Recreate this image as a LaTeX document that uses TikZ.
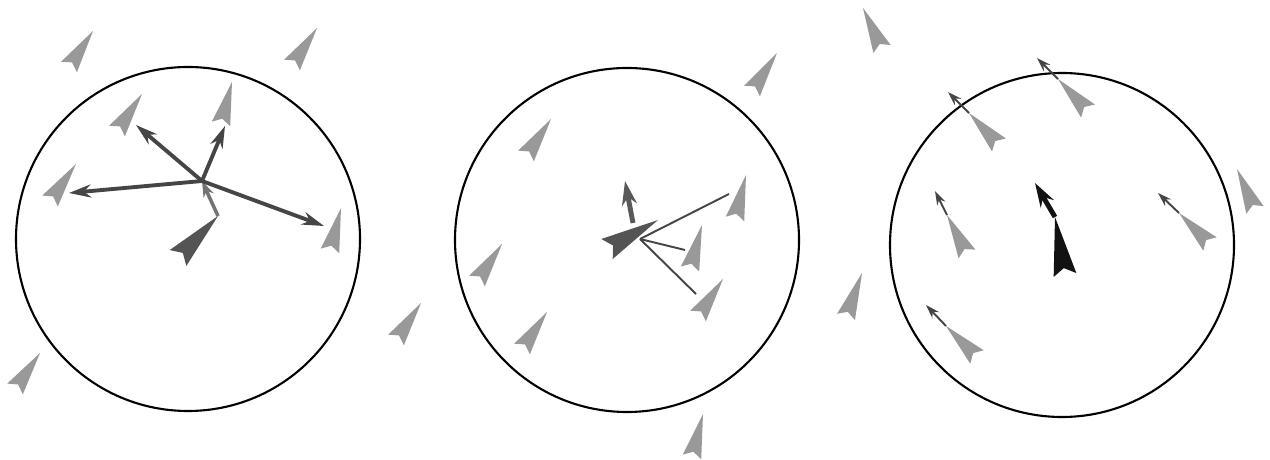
\documentclass[tikz,border=0pt]{standalone}
\usetikzlibrary{calc,arrows.meta}
\tikzset{
  boid width/.store in=\bw, boid width=1.9mm,
  boid notch/.store in=\bn, boid notch=1.1mm,
  nbr/.style={fill=black!40},
  lead/.style={fill=black!67, boid width=2.3mm, boid notch=1.4mm},
  ring/.style={line width=1.2pt},
  sep/.style={draw=black!73, line width=2.2pt, -{Stealth[length=4.4mm,width=2.6mm]}},
  nudge/.style={draw=black!55, line width=2pt, -{Stealth[length=3.2mm,width=2.2mm]}},
  vel/.style={line width=2.8pt, -{Stealth[length=4.8mm,width=3mm]}},
  probe/.style={draw=black!73, line width=1.1pt},
  pull/.style={draw=black!73, line width=1.1pt, -{Stealth[length=2.8mm,width=1.8mm]}}
}
\newcommand\boid[4][nbr]{%
  \coordinate (#2) at #3;
  \coordinate (#2t) at #4;
  \fill[#1] (#2) -- ($(#2t)!\bw!90:(#2)$) -- ($(#2t)!\bn!(#2)$) -- ($(#2t)!\bw!-90:(#2)$) -- cycle;
}
\begin{document}
\begin{tikzpicture}[x=0.2mm,y=-0.2mm]
\useasboundingbox (0,0) rectangle (1270,460);
\coordinate (o1) at (188,239);
\coordinate (o2) at (627,240);
\coordinate (o3) at (1062,245);
\foreach \o in {o1,o2,o3} \draw[ring] (\o) circle[radius=34.4mm];

\boid{a1}{(93,31)}{(69,67)}
\boid{a2}{(317,28)}{(292,65)}
\boid{a3}{(142,94)}{(117,131)}
\boid{a4}{(232,82)}{(221,124)}
\boid{a5}{(76,164)}{(50,201)}
\boid{a6}{(341,208)}{(330,251)}
\boid{a7}{(40,353)}{(15,389)}
\boid{a8}{(421,303)}{(396,340)}
\boid[lead]{a0}{(218,216)}{(178,258)}
\coordinate (h1) at (202,181);
\coordinate (s1) at (136,125);
\coordinate (s2) at (225,126);
\coordinate (s3) at (69,193);
\coordinate (s4) at (324,226);
\draw[nudge] (a0) -- (h1);
\foreach \s in {s1,s2,s3,s4} \draw[sep] (h1) -- (\s);

\boid{b1}{(777,53)}{(752,91)}
\boid{b2}{(551,119)}{(526,156)}
\boid{b3}{(502,244)}{(477,281)}
\boid{b4}{(547,312)}{(522,349)}
\boid{b5}{(746,175)}{(735,219)}
\boid{b6}{(702,225)}{(690,269)}
\boid{b7}{(723,279)}{(698,316)}
\boid{b8}{(703,414)}{(692,457)}
\boid{b9}{(862,273)}{(846,317)}
\boid[lead]{b0}{(658,220)}{(607,249)}
\coordinate (u2) at (633,223);
\coordinate (v2) at (625,181);
\draw[vel,black!65] (u2) -- (v2);
\coordinate (h2) at (640,239);
\coordinate (l1) at (729,194);
\coordinate (l2) at (685,250);
\coordinate (l3) at (696,294);
\foreach \l in {l1,l2,l3} \draw[probe] (h2) -- (\l);

\boid{c1}{(863,8)}{(882,49)}
\boid{c2}{(1058,79)}{(1088,111)}
\boid{c3}{(969,113)}{(999,145)}
\boid{c4}{(947,215)}{(967,254)}
\boid{c5}{(946,326)}{(977,357)}
\boid{c6}{(1179,213)}{(1210,244)}
\boid{c7}{(1237,169)}{(1255,210)}
\boid[lead,fill=black!93]{c0}{(1055,217)}{(1065,275)}
\coordinate (v3) at (1035,183);
\draw[vel,black!93] (c0) -- (v3);
\coordinate (p2) at (1037,58);
\coordinate (p3) at (948,92);
\coordinate (p4) at (935,191);
\coordinate (p5) at (926,305);
\coordinate (p6) at (1158,193);
\foreach \p in {2,...,6} \draw[pull] (c\p) -- (p\p);
\end{tikzpicture}
\end{document}
